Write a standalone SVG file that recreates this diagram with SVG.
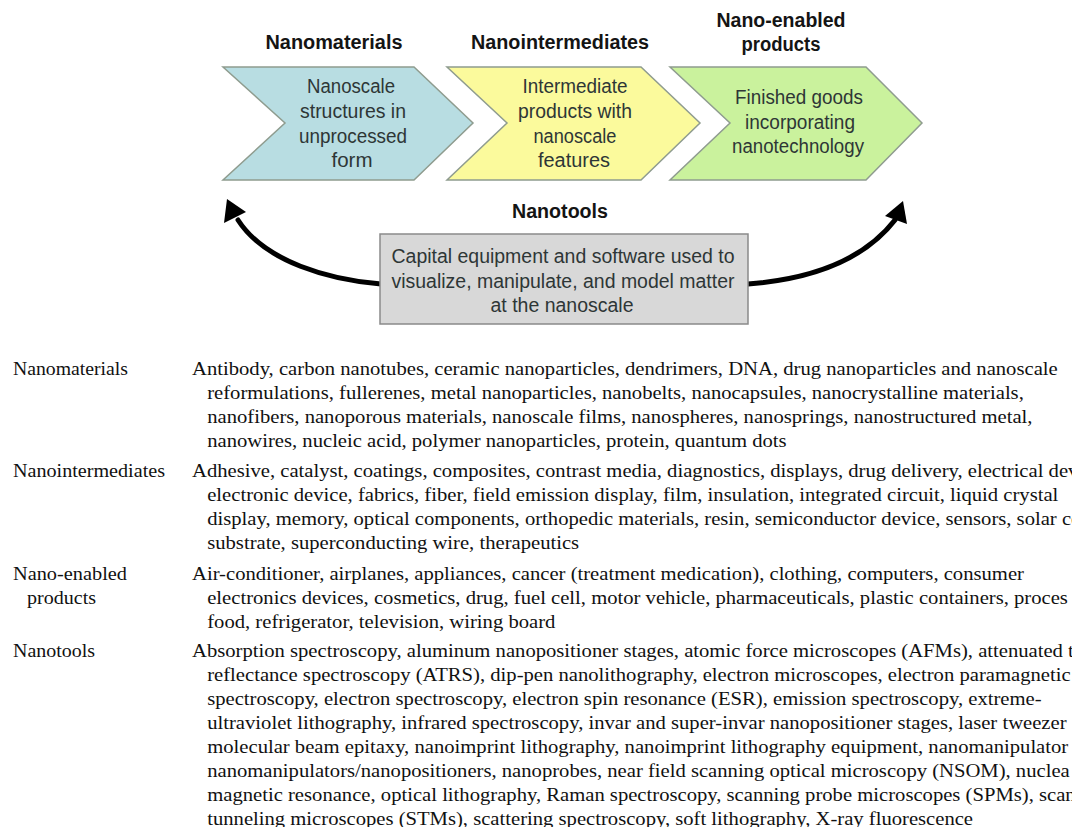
<svg xmlns="http://www.w3.org/2000/svg" width="1072" height="827" viewBox="0 0 1072 827">
  <style>
    .chev { stroke: #8f9c8f; stroke-width: 1.5; stroke-linejoin: miter; }
    .head { font-family: "Liberation Sans", Arial, sans-serif; font-weight: bold; font-size: 20px; fill: #141414; text-anchor: middle; }
    .body { font-family: "Liberation Sans", Arial, sans-serif; font-size: 20px; fill: #2e3636; text-anchor: middle; }
    .tbl { font-family: "Liberation Serif", "Times New Roman", serif; font-size: 19px; fill: #111; }
    .curve { fill: none; stroke: #000; stroke-width: 5; stroke-linecap: round; }
  </style>

  <rect x="0" y="0" width="1072" height="827" fill="#fff"/>

  <!-- value chain stages -->
  <g id="nanomaterials">
    <text class="head" x="334" y="49" textLength="137" lengthAdjust="spacingAndGlyphs">Nanomaterials</text>
    <polygon class="chev" fill="#b8dde2" points="223,67 414,67 473,123 414,180 223,180 285,123"/>
    <text class="body" x="351" y="93" textLength="88" lengthAdjust="spacingAndGlyphs">Nanoscale</text>
    <text class="body" x="353" y="118" textLength="106" lengthAdjust="spacingAndGlyphs">structures in</text>
    <text class="body" x="353" y="143" textLength="108" lengthAdjust="spacingAndGlyphs">unprocessed</text>
    <text class="body" x="352" y="167" textLength="41" lengthAdjust="spacingAndGlyphs">form</text>
  </g>

  <g id="nanointermediates">
    <text class="head" x="560" y="49" textLength="178" lengthAdjust="spacingAndGlyphs">Nanointermediates</text>
    <polygon class="chev" fill="#fbfa9c" points="447,67 641,67 700,123 641,180 447,180 507,123"/>
    <text class="body" x="575" y="93" textLength="105" lengthAdjust="spacingAndGlyphs">Intermediate</text>
    <text class="body" x="575" y="118" textLength="114" lengthAdjust="spacingAndGlyphs">products with</text>
    <text class="body" x="575" y="143" textLength="83" lengthAdjust="spacingAndGlyphs">nanoscale</text>
    <text class="body" x="574" y="167" textLength="72" lengthAdjust="spacingAndGlyphs">features</text>
  </g>

  <g id="nano-enabled-products">
    <text class="head" x="781" y="27" textLength="129" lengthAdjust="spacingAndGlyphs">Nano-enabled</text>
    <text class="head" x="781" y="51" textLength="79" lengthAdjust="spacingAndGlyphs">products</text>
    <polygon class="chev" fill="#caf29d" points="670,67 866,67 922,123 866,180 670,180 730,123"/>
    <text class="body" x="799" y="104" textLength="128" lengthAdjust="spacingAndGlyphs">Finished goods</text>
    <text class="body" x="800" y="129" textLength="110" lengthAdjust="spacingAndGlyphs">incorporating</text>
    <text class="body" x="798" y="153" textLength="132" lengthAdjust="spacingAndGlyphs">nanotechnology</text>
  </g>

  <!-- tools feed back into the chain -->
  <g id="connectors">
    <path class="curve" d="M 381 284 C 330 280, 265 262, 238 220"/>
    <polygon fill="#000" points="227,199 246,212 224,223"/>
    <path class="curve" d="M 748 284 C 800 280, 860 265, 895 220"/>
    <polygon fill="#000" points="903,201 907,224 885,216"/>
  </g>

  <g id="nanotools">
    <text class="head" x="560" y="218" textLength="96" lengthAdjust="spacingAndGlyphs">Nanotools</text>
    <rect x="380" y="234" width="368" height="90" fill="#d8d8d8" stroke="#8a8a8a" stroke-width="1.5"/>
    <text class="body" x="563" y="263" textLength="343" lengthAdjust="spacingAndGlyphs">Capital equipment and software used to</text>
    <text class="body" x="563" y="288" textLength="343" lengthAdjust="spacingAndGlyphs">visualize, manipulate, and model matter</text>
    <text class="body" x="562" y="312" textLength="143" lengthAdjust="spacingAndGlyphs">at the nanoscale</text>
  </g>

  <!-- examples table: category labels on the left, wrapped lists on the right -->
  <g id="table-nanomaterials" class="tbl">
    <text x="13" y="375" textLength="115" lengthAdjust="spacingAndGlyphs">Nanomaterials</text>
    <g transform="translate(192 0) scale(1.087 1)">
      <text x="0" y="375">Antibody, carbon nanotubes, ceramic nanoparticles, dendrimers, DNA, drug nanoparticles and nanoscale</text>
      <text x="14" y="399">reformulations, fullerenes, metal nanoparticles, nanobelts, nanocapsules, nanocrystalline materials,</text>
      <text x="14" y="423">nanofibers, nanoporous materials, nanoscale films, nanospheres, nanosprings, nanostructured metal,</text>
      <text x="14" y="447">nanowires, nucleic acid, polymer nanoparticles, protein, quantum dots</text>
    </g>
  </g>

  <g id="table-nanointermediates" class="tbl">
    <text x="13" y="477" textLength="152" lengthAdjust="spacingAndGlyphs">Nanointermediates</text>
    <g transform="translate(192 0) scale(1.087 1)">
      <text x="0" y="477">Adhesive, catalyst, coatings, composites, contrast media, diagnostics, displays, drug delivery, electrical dev</text>
      <text x="14" y="501">electronic device, fabrics, fiber, field emission display, film, insulation, integrated circuit, liquid crystal</text>
      <text x="14" y="525">display, memory, optical components, orthopedic materials, resin, semiconductor device, sensors, solar ce</text>
      <text x="14" y="549">substrate, superconducting wire, therapeutics</text>
    </g>
  </g>

  <g id="table-nano-enabled" class="tbl">
    <text x="13" y="580" textLength="114" lengthAdjust="spacingAndGlyphs">Nano-enabled</text>
    <text x="27" y="604" textLength="69" lengthAdjust="spacingAndGlyphs">products</text>
    <g transform="translate(192 0) scale(1.087 1)">
      <text x="0" y="580">Air-conditioner, airplanes, appliances, cancer (treatment medication), clothing, computers, consumer</text>
      <text x="14" y="604">electronics devices, cosmetics, drug, fuel cell, motor vehicle, pharmaceuticals, plastic containers, proces</text>
      <text x="14" y="628">food, refrigerator, television, wiring board</text>
    </g>
  </g>

  <g id="table-nanotools" class="tbl">
    <text x="13" y="657" textLength="82" lengthAdjust="spacingAndGlyphs">Nanotools</text>
    <g transform="translate(192 0) scale(1.087 1)">
      <text x="0" y="657">Absorption spectroscopy, aluminum nanopositioner stages, atomic force microscopes (AFMs), attenuated t</text>
      <text x="14" y="681">reflectance spectroscopy (ATRS), dip-pen nanolithography, electron microscopes, electron paramagnetic</text>
      <text x="14" y="705">spectroscopy, electron spectroscopy, electron spin resonance (ESR), emission spectroscopy, extreme-</text>
      <text x="14" y="729">ultraviolet lithography, infrared spectroscopy, invar and super-invar nanopositioner stages, laser tweezer</text>
      <text x="14" y="753">molecular beam epitaxy, nanoimprint lithography, nanoimprint lithography equipment, nanomanipulator</text>
      <text x="14" y="777">nanomanipulators/nanopositioners, nanoprobes, near field scanning optical microscopy (NSOM), nuclea</text>
      <text x="14" y="801">magnetic resonance, optical lithography, Raman spectroscopy, scanning probe microscopes (SPMs), scann</text>
      <text x="14" y="825">tunneling microscopes (STMs), scattering spectroscopy, soft lithography, X-ray fluorescence</text>
    </g>
  </g>
</svg>
